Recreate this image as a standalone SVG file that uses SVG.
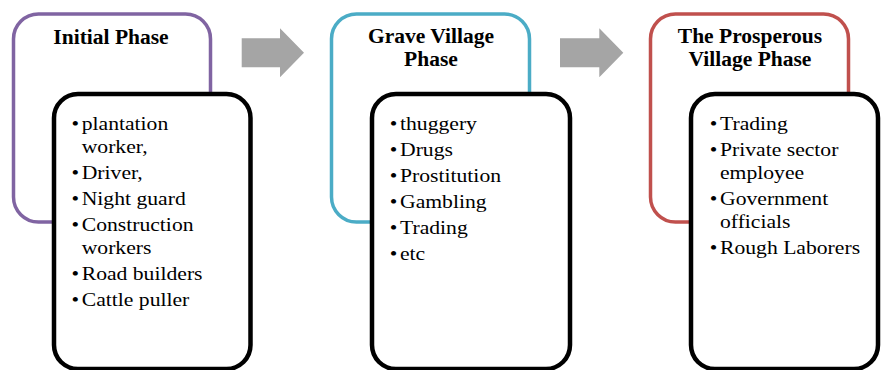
<svg xmlns="http://www.w3.org/2000/svg" width="881" height="370" viewBox="0 0 881 370">
<style>
.outer{fill:#fff;stroke-width:3.5}
.inner{fill:#fff;stroke:#000;stroke-width:4.5}
.title{font-family:"Liberation Serif","Times New Roman",serif;font-weight:bold;font-size:20.5px;fill:#000;text-anchor:middle}
.item{font-family:"Liberation Serif","Times New Roman",serif;font-size:19px;fill:#000}
.bul{font-family:"Liberation Serif","Times New Roman",serif;font-size:19px;fill:#000;text-anchor:middle}
.arrow{fill:#A5A5A5}
</style>
<rect width="881" height="370" fill="#fff"/>
<g id="connectors">
<polygon class="arrow" points="241.7,38.3 280,38.3 280,28.3 304,52.7 280,77.3 280,67.3 241.7,67.3"/>
<polygon class="arrow" points="560,38.3 599.3,38.3 599.3,28.3 623.3,52.7 599.3,77.3 599.3,67.3 560,67.3"/>
</g>
<g id="initial-phase">
<rect class="outer" x="13.5" y="14" width="197" height="208" rx="25" stroke="#8064A2"/>
<g transform="translate(111,0) scale(1.05,1)"><text class="title" x="0" y="44.5">Initial Phase</text></g>
<rect class="inner" x="54" y="94" width="196.5" height="275" rx="24"/>
<g transform="translate(81.7,0) scale(1.14,1)">
<text class="bul" x="-5.7" y="130.5">•</text><text class="item" x="0" y="130.5">plantation</text>
<text class="item" x="0" y="153.5">worker,</text>
<text class="bul" x="-5.7" y="179.5">•</text><text class="item" x="0" y="179.5">Driver,</text>
<text class="bul" x="-5.7" y="205.5">•</text><text class="item" x="0" y="205.5">Night guard</text>
<text class="bul" x="-5.7" y="231.5">•</text><text class="item" x="0" y="231.5">Construction</text>
<text class="item" x="0" y="254.5">workers</text>
<text class="bul" x="-5.7" y="280.5">•</text><text class="item" x="0" y="280.5">Road builders</text>
<text class="bul" x="-5.7" y="306.5">•</text><text class="item" x="0" y="306.5">Cattle puller</text>
</g>
</g>
<g id="grave-village-phase">
<rect class="outer" x="331.5" y="14" width="198" height="208" rx="25" stroke="#4BACC6"/>
<g transform="translate(431,0) scale(1.05,1)">
<text class="title" x="0" y="43">Grave Village</text>
<text class="title" x="0" y="66">Phase</text>
</g>
<rect class="inner" x="372" y="94" width="198" height="275" rx="24"/>
<g transform="translate(400,0) scale(1.14,1)">
<text class="bul" x="-5.7" y="130.5">•</text><text class="item" x="0" y="130.5">thuggery</text>
<text class="bul" x="-5.7" y="156.5">•</text><text class="item" x="0" y="156.5">Drugs</text>
<text class="bul" x="-5.7" y="182.5">•</text><text class="item" x="0" y="182.5">Prostitution</text>
<text class="bul" x="-5.7" y="208.5">•</text><text class="item" x="0" y="208.5">Gambling</text>
<text class="bul" x="-5.7" y="234.5">•</text><text class="item" x="0" y="234.5">Trading</text>
<text class="bul" x="-5.7" y="260.5">•</text><text class="item" x="0" y="260.5">etc</text>
</g>
</g>
<g id="prosperous-village-phase">
<rect class="outer" x="650.5" y="14" width="198" height="208" rx="25" stroke="#C0504D"/>
<g transform="translate(750,0) scale(1.05,1)">
<text class="title" x="0" y="43">The Prosperous</text>
<text class="title" x="0" y="66">Village Phase</text>
</g>
<rect class="inner" x="691" y="94" width="187" height="275" rx="24"/>
<g transform="translate(720,0) scale(1.14,1)">
<text class="bul" x="-5.7" y="130.5">•</text><text class="item" x="0" y="130.5">Trading</text>
<text class="bul" x="-5.7" y="156.5">•</text><text class="item" x="0" y="156.5">Private sector</text>
<text class="item" x="0" y="179.5">employee</text>
<text class="bul" x="-5.7" y="205.5">•</text><text class="item" x="0" y="205.5">Government</text>
<text class="item" x="0" y="228.5">officials</text>
<text class="bul" x="-5.7" y="254.5">•</text><text class="item" x="0" y="254.5">Rough Laborers</text>
</g>
</g>
</svg>
